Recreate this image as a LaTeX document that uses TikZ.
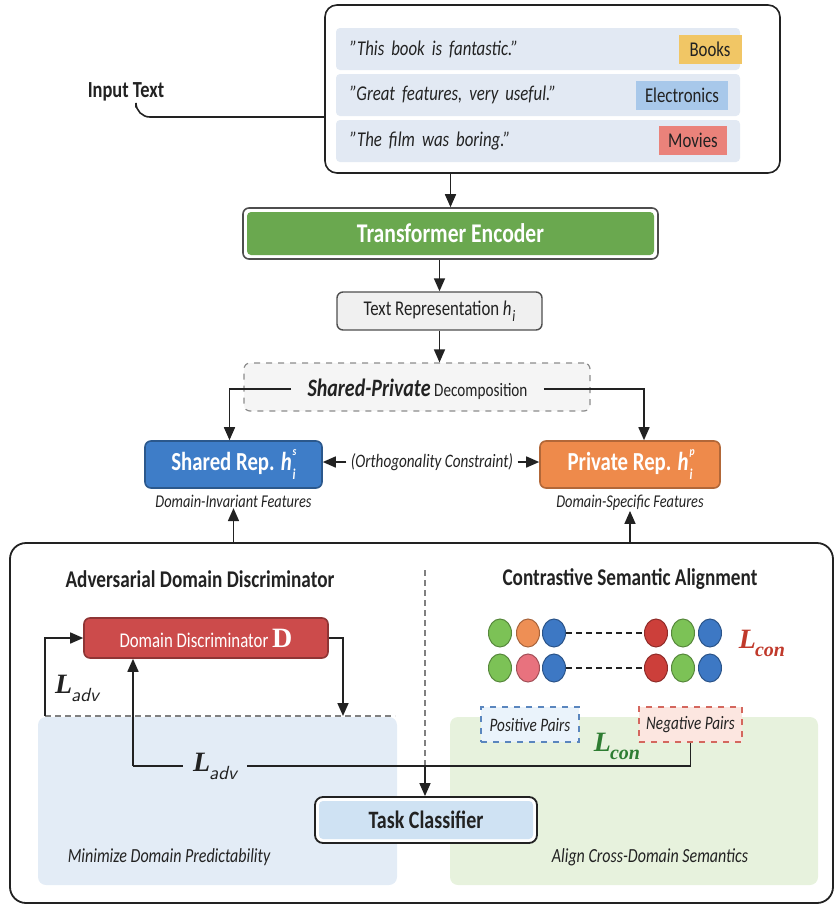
\documentclass[tikz,border=0pt]{standalone}
\usepackage{fontspec}
\setmainfont{Carlito}[FakeStretch=0.8]
\newfontfamily\lossfont{Liberation Serif}
\usetikzlibrary{positioning,arrows.meta,shapes.geometric}
\definecolor{inkgray}{HTML}{222222}
\definecolor{rowblue}{HTML}{E2E9F3}
\definecolor{tagyellow}{HTML}{F1C665}
\definecolor{tagblue}{HTML}{A8C8EA}
\definecolor{tagred}{HTML}{EA827A}
\definecolor{encgreen}{HTML}{6AA84F}
\definecolor{sharedblue}{HTML}{3E7DC8}
\definecolor{privorange}{HTML}{EE8A4B}
\definecolor{discred}{HTML}{CC4B4B}
\definecolor{regblue}{HTML}{E3ECF6}
\definecolor{reggreen}{HTML}{E7F2DD}
\definecolor{taskblue}{HTML}{CFE2F3}
\definecolor{cgreen}{HTML}{7CC256}
\definecolor{corange}{HTML}{EE8F55}
\definecolor{cblue}{HTML}{3D78C4}
\definecolor{cpink}{HTML}{E8727E}
\definecolor{cred}{HTML}{CC3F3A}
\definecolor{lossred}{HTML}{C0392B}
\definecolor{lossgreen}{HTML}{2E7D32}
\definecolor{posblue}{HTML}{5A86BE}
\definecolor{posfill}{HTML}{EAF3FB}
\definecolor{negred}{HTML}{D4675E}
\definecolor{negfill}{HTML}{FCE6E0}
\newcommand\fs[1]{\fontsize{#1}{#1}\selectfont}
\newcommand\hsub[1]{\textit{h}\kern.4pt\raisebox{-.55ex}{\fs{8}\itshape #1}}
\newcommand\hvec[2]{\textit{h}\kern.4pt\rlap{\raisebox{1.15ex}{\fs{6}\itshape #2}}\raisebox{-.7ex}{\fs{7.5}\itshape #1}}
\newcommand\lossL[1]{{\lossfont\bfseries\itshape L}\kern-.5pt\raisebox{-.6ex}{#1}}

\begin{document}
\begin{tikzpicture}[
        x=0.5pt, y=-0.5pt,
        every node/.append style={inner sep=0pt, text=inkgray},
        link/.style={line width=0.8pt, draw=inkgray},
        arr/.style={link, -{Triangle[length=6.5pt,width=5.5pt]}},
        dashline/.style={line width=0.6pt, draw=black!50, dash pattern=on 3pt off 2pt},
        row/.style={fill=rowblue, rounded corners=2pt, minimum height=21pt, text width=188pt, inner xsep=7pt, align=left, font=\fs{10.5}\itshape},
        tag/.style={minimum height=14.5pt, font=\fs{10.5}},
        rep/.style={rounded corners=3pt, minimum height=23.5pt, line width=0.8pt, text=white, font=\bfseries\fs{13}},
        capt/.style={font=\itshape\fs{9}},
        head/.style={font=\bfseries\fs{12}},
        region/.style={rounded corners=4pt, minimum height=84pt},
        pair/.style={dashed, line width=0.7pt, minimum height=17.5pt, font=\itshape\fs{9.5}},
        dot/.style={ellipse, minimum width=11.5pt, minimum height=14pt, fill=#1, draw=#1!70!black, line width=0.5pt},
        inset/.style={fill=white, path picture={\fill[#1, rounded corners=2pt] ([shift={(2pt,-2pt)}]path picture bounding box.north west) rectangle ([shift={(-2pt,2pt)}]path picture bounding box.south east);}}
    ]
    \useasboundingbox (0,0) rectangle (836,907);

    \node[draw=inkgray, line width=0.8pt, rounded corners=6pt, fill=white, minimum width=227.5pt, minimum height=84pt] (In) at (552.5,89) {};
    \node[row] (R1) at (538,49)  {"This book is fantastic."};
    \node[row] (R2) at (538,95)  {"Great features, very useful."};
    \node[row] (R3) at (538,141) {"The film was boring."};
    \node[tag, fill=tagyellow, minimum width=31.5pt] (Tb) at (710,49)  {Books};
    \node[tag, fill=tagblue,   minimum width=46pt]   (Te) at (682,95)  {Electronics};
    \node[tag, fill=tagred,    minimum width=34pt]   (Tm) at (693,140) {Movies};
    \node[font=\bfseries\fs{11.5}] (It) at (126,92) {Input Text};
    \draw[link, rounded corners=7pt] ([xshift=5pt,yshift=-3pt]It.south) |- (In.west |- 0,117);

    \node[draw=inkgray!80, line width=0.8pt, rounded corners=3pt, inset=encgreen, minimum width=207.5pt, minimum height=25.5pt, text=white, font=\bfseries\fs{13.5}] (Enc) at (450.5,233.5) {Transformer Encoder};
    \node[draw=inkgray!80, line width=0.7pt, rounded corners=3pt, fill=black!6, minimum width=102.5pt, minimum height=19pt, font=\fs{10.5}] (Rep) at (439.5,311) {Text Representation \hsub{i}};
    \node[dashed, draw=black!45, line width=0.6pt, rounded corners=3pt, fill=black!4, minimum width=173pt, minimum height=24pt] (Sp) at (417,387) {};
    \node[inner xsep=8pt, fill=black!4] (St) at (417.5,389) {{\bfseries\itshape\fs{12.5}Shared-Private} {\fs{9.5}Decomposition}};
    \draw[arr] (In.south -| Enc) -- (Enc);
    \draw[arr] (Enc.south -| Rep) -- (Rep);
    \draw[arr] (Rep) -- (Rep |- Sp.north);

    \node[rep, fill=sharedblue, draw=sharedblue!70!black, minimum width=88.5pt] (Sh) at (233.5,464.5) {Shared Rep. \hvec{i}{s}};
    \node[rep, fill=privorange, draw=privorange!75!black, minimum width=90pt] (Pr) at (630,464.5) {Private Rep. \hvec{i}{p}};
    \node[font=\itshape\fs{9.5}, inner xsep=2pt] (Or) at (432,462) {(Orthogonality Constraint)};
    \node[capt, below=3pt of Sh] (Iv) {Domain-Invariant Features};
    \node[capt, below=3pt of Pr] (Sf) {Domain-Specific Features};
    \draw[arr] (St.west) -| ([xshift=-2pt]Sh.north);
    \draw[arr] (St.east) -| ([xshift=7pt]Pr.north);
    \draw[arr] (Or.west) -- (Or.west -| Sh.east);
    \draw[arr] (Or.east) -- (Or.east -| Pr.west);

    \node[draw=inkgray, line width=0.9pt, rounded corners=8pt, minimum width=411.5pt, minimum height=180pt] (Bt) at (421.5,723) {};
    \draw[arr] (Bt.north -| Iv) -- (Iv);
    \draw[arr] (Bt.north -| Sf) -- (Sf);
    \node[head] (Ha) at (200,579) {Adversarial Domain Discriminator};
    \node[head] (Hc) at (630,579) {Contrastive Semantic Alignment};
    \node[region, fill=regblue,  minimum width=179.5pt] (Ba) at (217.5,801) {};
    \node[region, fill=reggreen, minimum width=184pt]   (Ga) at (634,801)   {};

    \node[rounded corners=3pt, fill=discred, draw=discred!70!black, line width=0.8pt, minimum width=122pt, minimum height=20pt, text=white, font=\fs{10.5}] (D) at (206,638) {Domain Discriminator {\lossfont\bfseries\fs{14}D}};
    \coordinate (Dl) at (45,716);
    \coordinate (Dr) at (343,716);
    \draw[dashline] (Dl) -- (395,716);
    \draw[arr] (Dl) |- (D.west);
    \draw[arr] (D.east) -| (Dr);
    \node[font=\fs{14}] (La) at (77,688) {\lossL{\sffamily\itshape\fs{9.5}adv}};

    \node[draw=inkgray, line width=0.9pt, rounded corners=4pt, inset=taskblue, minimum width=111pt, minimum height=23pt, font=\bfseries\fs{12.5}] (Tc) at (426,820) {Task Classifier};
    \coordinate (Jn) at (425,766);
    \draw[dashline] (425,570) -- (Jn);
    \draw[arr] (Jn) -- (Jn |- Tc.north);

    \node[dot=cgreen]  (P1) at (500,633) {};
    \node[dot=corange] (P2) at (528,633) {};
    \node[dot=cblue]   (P3) at (554,633) {};
    \node[dot=cred]    (Q1) at (656,633) {};
    \node[dot=cgreen]  (Q2) at (683,633) {};
    \node[dot=cblue]   (Q3) at (710,633) {};
    \node[dot=cgreen]  (P4) at (500,668) {};
    \node[dot=cpink]   (P5) at (528,668) {};
    \node[dot=cblue]   (P6) at (554,668) {};
    \node[dot=cred]    (Q4) at (656,668) {};
    \node[dot=cgreen]  (Q5) at (683,668) {};
    \node[dot=cblue]   (Q6) at (710,668) {};
    \draw[link, dash pattern=on 3pt off 2pt] (P3) -- (Q1);
    \draw[link, dash pattern=on 3pt off 2pt] (P6) -- (Q4);
    \node[text=lossred, font=\fs{14}] (Lr) at (762,643) {\lossL{\lossfont\bfseries\itshape\fs{10}con}};

    \node[pair, draw=posblue, fill=posfill, minimum width=49pt]   (Ps) at (530,724.5) {Positive Pairs};
    \node[pair, draw=negred,  fill=negfill, minimum width=51.5pt] (Ng) at (690.5,724.5) {Negative Pairs};
    \coordinate (Kl) at (133,766);
    \draw[link] (Ng.south) |- (Kl);
    \draw[arr] (Kl) -- (Kl |- D.south);
    \node[fill=regblue, inner xsep=5pt, font=\fs{14}] (Lb) at (215,766) {\lossL{\sffamily\itshape\fs{9.5}adv}};
    \node[text=lossgreen, font=\fs{14}] (Lg) at (617,746) {\lossL{\lossfont\bfseries\itshape\fs{10}con}};

    \node[font=\itshape\fs{10}] (Mz) at (169,857) {Minimize Domain Predictability};
    \node[font=\itshape\fs{10}] (Al) at (650,857) {Align Cross-Domain Semantics};
\end{tikzpicture}
\end{document}
